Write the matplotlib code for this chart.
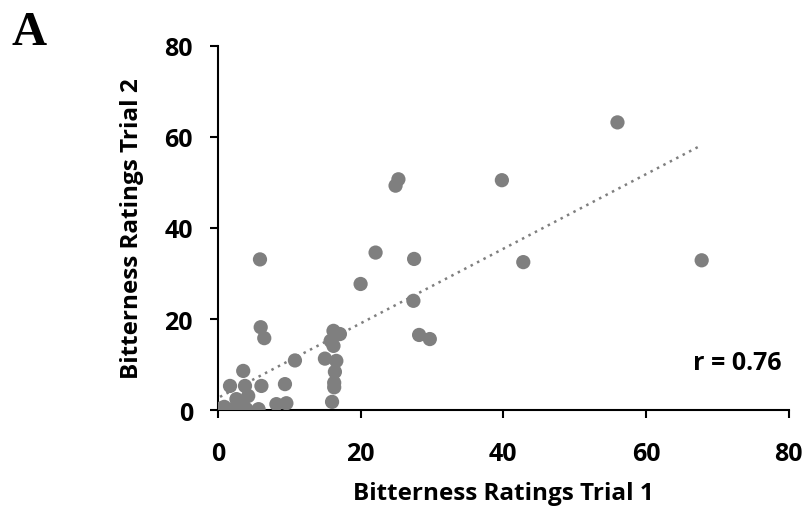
import numpy as np
import matplotlib.pyplot as plt

# bitterness ratings, trial 1 vs trial 2
trial1 = [56.0, 67.8, 39.8, 42.8, 25.3, 24.9, 22.1, 27.5, 20.0, 27.4,
          28.2, 29.7, 5.9, 6.0, 6.5, 10.8, 15.0, 16.2, 17.1, 15.8,
          16.2, 16.6, 16.4, 16.3, 16.3, 16.0, 9.4, 9.6, 8.2, 6.1,
          5.7, 3.55, 3.8, 1.7, 4.25, 2.6, 4.0, 2.1, 0.3, 0.9,
          3.5]
trial2 = [63.2, 32.9, 50.5, 32.5, 50.7, 49.3, 34.6, 33.2, 27.7, 24.0,
          16.5, 15.6, 33.1, 18.2, 15.8, 10.9, 11.3, 17.4, 16.7, 15.2,
          14.1, 10.8, 8.4, 6.0, 5.0, 1.8, 5.7, 1.5, 1.3, 5.3,
          0.2, 8.6, 5.3, 5.3, 3.1, 2.4, 0.2, 0.2, 0.3, 0.7,
          1.0]
r_text = "r = 0.76"

xt = np.array(trial1)
yt = np.array(trial2)
slope, icpt = np.polyfit(xt, yt, 1)

fnt = "Open Sans"

fig = plt.figure(figsize=(8.04, 5.10), dpi=100)
ax = fig.add_axes([0.271, 0.194, 0.71, 0.714])

ax.scatter(xt, yt, s=105, color="#7f7f7f", edgecolors="none", zorder=3)
xx = np.array([xt.min(), xt.max()])
ax.plot(xx, slope * xx + icpt, linestyle=(0, (1, 1.9)), color="#7f7f7f",
        linewidth=1.8, zorder=2)

ax.set_xlim(0, 80)
ax.set_ylim(0, 80)
ax.set_xticks([0, 20, 40, 60, 80])
ax.set_yticks([0, 20, 40, 60, 80])
for s in ["top", "right"]:
    ax.spines[s].set_visible(False)
for s in ["left", "bottom"]:
    ax.spines[s].set_linewidth(1.5)
ax.tick_params(direction="out", length=6, width=1.5, labelsize=18)
ax.tick_params(axis="y", pad=12)
ax.tick_params(axis="x", pad=16)
for lab in ax.get_xticklabels() + ax.get_yticklabels():
    lab.set_fontfamily(fnt)
    lab.set_fontweight("bold")

ax.set_xlabel("Bitterness Ratings Trial 1", fontfamily=fnt, fontweight="bold",
              fontsize=17.5, labelpad=11)
ax.set_ylabel("Bitterness Ratings Trial 2", fontfamily=fnt, fontweight="bold",
              fontsize=17.5, labelpad=15)

ax.text(0.988, 0.112, r_text, transform=ax.transAxes, ha="right", va="baseline",
        fontfamily=fnt, fontweight="bold", fontsize=18)
fig.text(0.014, 0.912, "A", fontfamily="Liberation Serif", fontweight="bold",
         fontsize=35, ha="left", va="baseline")

fig.savefig("out.png", dpi=100)
